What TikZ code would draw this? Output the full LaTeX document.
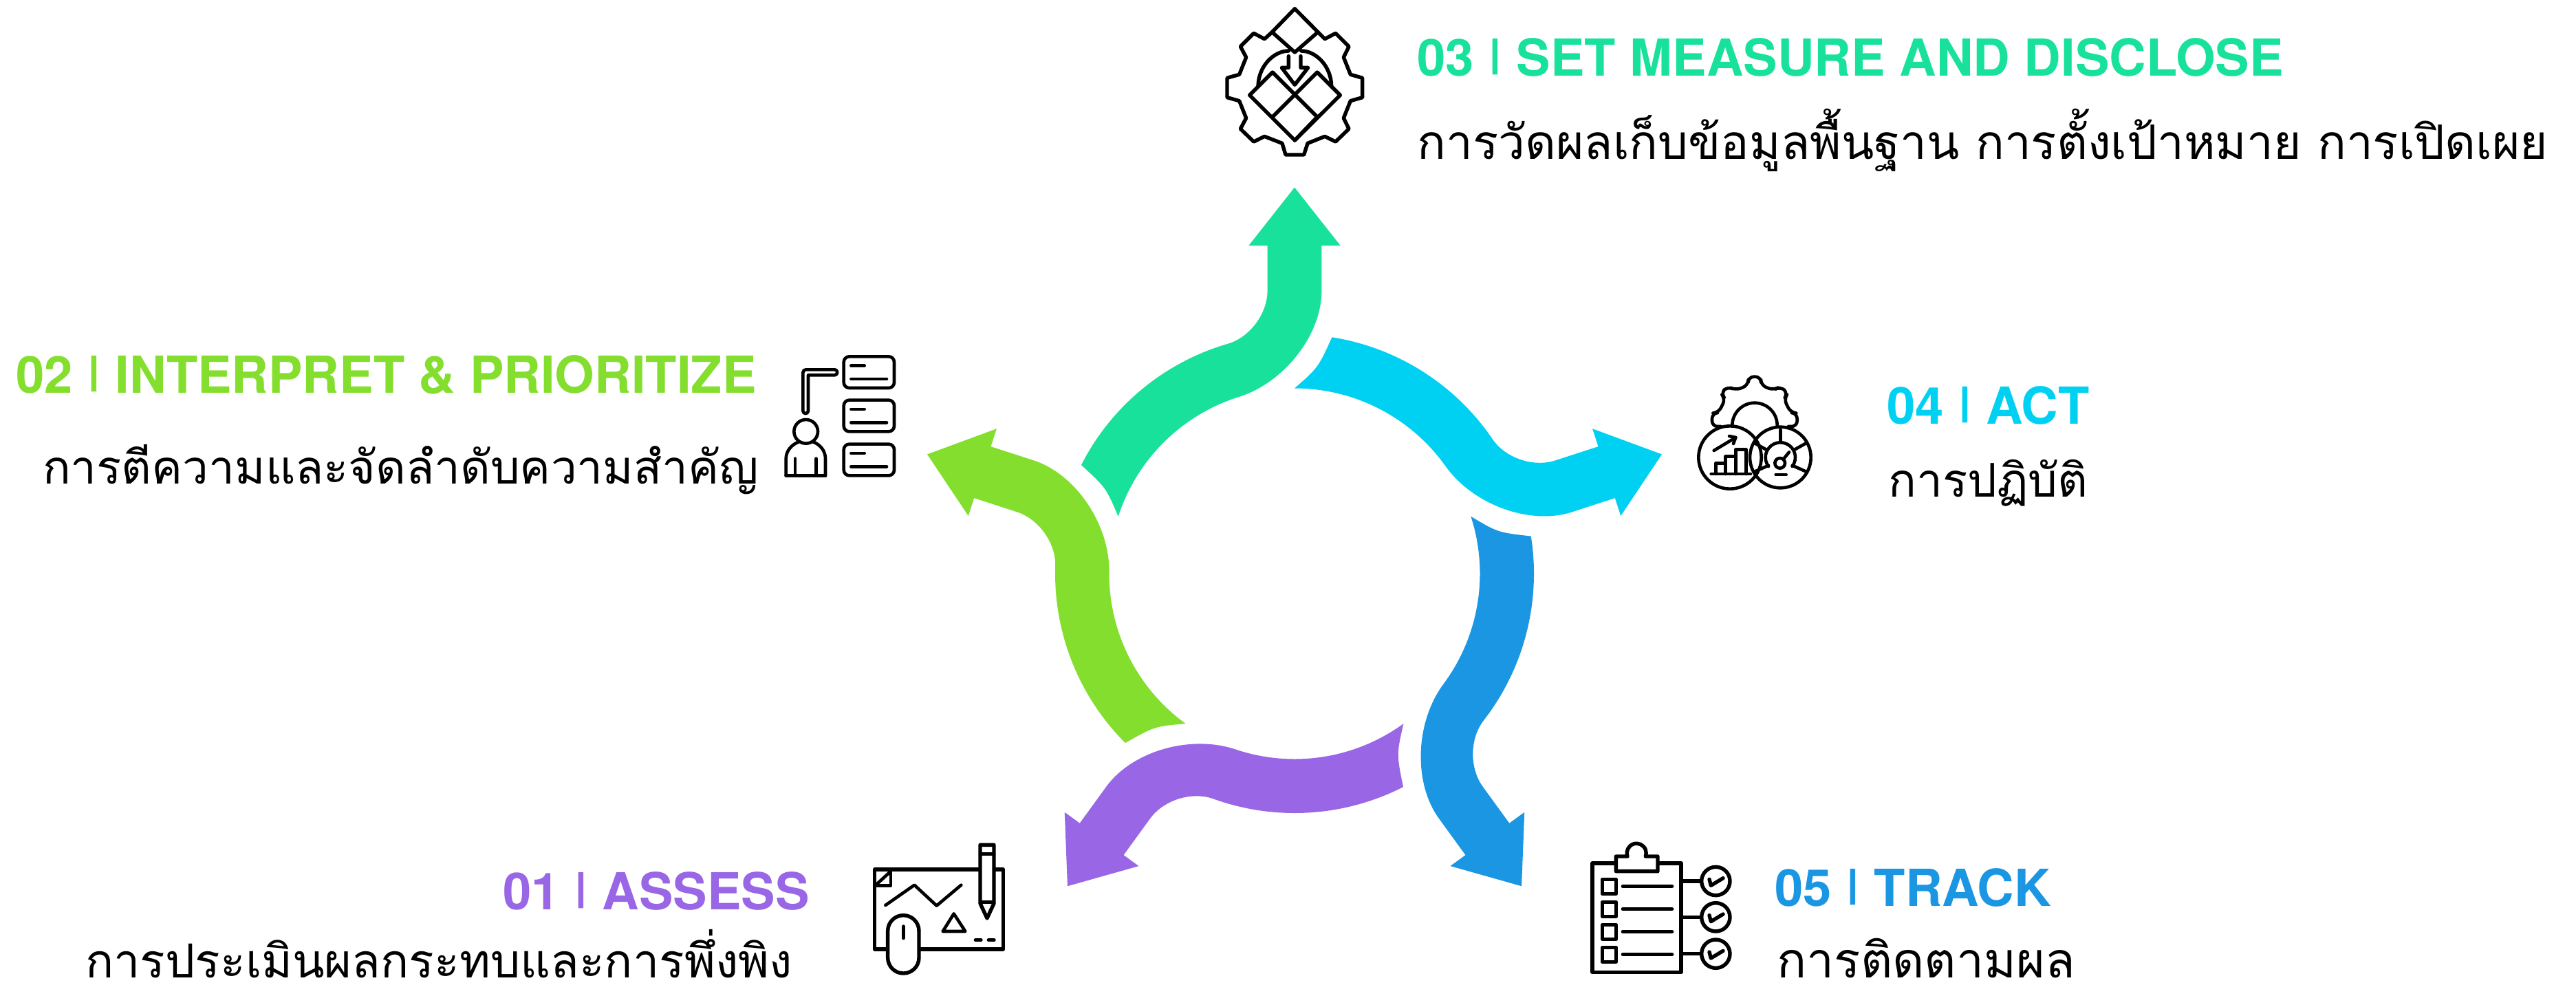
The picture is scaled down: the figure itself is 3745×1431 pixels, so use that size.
\documentclass[tikz,border=0pt]{standalone}
\usepackage{fontspec}
\setmainfont{TeX Gyre Heros}
\newfontfamily\thaifont[Script=Thai]{Loma}
\definecolor{cteal}{HTML}{17E19A}
\definecolor{ccyan}{HTML}{00D1F2}
\definecolor{cblue}{HTML}{1A96E3}
\definecolor{cpurple}{HTML}{9966E6}
\definecolor{cgreen}{HTML}{84DE2D}
\newcommand{\sepbar}{\scalebox{1}[0.76]{\raisebox{.215em}{|}}}
\newcommand{\thaisize}[1]{\fontsize{#1}{40}\selectfont}
\tikzset{
  x=0.5pt,y=-0.5pt,
  head/.style={inner sep=0,font=\fontsize{37.1}{40}\selectfont\bfseries},
  thai/.style={inner sep=0,text=black,font=\thaifont},
  ink/.style={line width=2.7pt,line join=round,line cap=round,draw=black},
  inkthin/.style={line width=2.3pt,line join=round,line cap=round,draw=black},
}
\newcommand{\petal}[2]{%
  \fill[#1,shift={(1882,834)},rotate=#2,yscale=-1]
    (0,561.5) -- (66.6,477) -- (39.4,477) -- (39.4,411.4)
    .. controls (39.4,347.6) and (-14.6,278) .. (107.4:269.5)
    arc[start angle=107.4,end angle=162,radius=269.5]
    .. controls (-274.1,125) .. (153:348)
    arc[start angle=153,end angle=106,radius=348]
    .. controls (-64.9,344) and (-39.4,378) .. (-39.4,411.4)
    -- (-39.4,477) -- (-66.6,477) -- cycle;}
\begin{document}
\begin{tikzpicture}
\useasboundingbox (0,0) rectangle (3745,1431);
\petal{cteal}{0}
\petal{ccyan}{-72}
\petal{cblue}{-144}
\petal{cpurple}{-216}
\petal{cgreen}{72}
% texts
\node[head,text=cteal,anchor=base west] (h3) at (2060,110) {03 \sepbar{} SET MEASURE AND DISCLOSE};
\node[thai,anchor=base west] (t3) at (2060,231) {\thaisize{34.6}การวัดผลเก็บข้อมูลพื้นฐาน การตั้งเป้าหมาย การเปิดเผย};
\node[head,text=cgreen,anchor=base east] (h2) at (1100,571) {02 \sepbar{} INTERPRET \& PRIORITIZE};
\node[thai,anchor=base east] (t2) at (1103,703) {\thaisize{33.7}การตีความและจัดลำดับความสำคัญ};
\node[head,text=ccyan,anchor=base west] (h4) at (2743,616) {04 \sepbar{} ACT};
\node[thai,anchor=base west] (t4) at (2745,722) {\thaisize{33.8}การปฏิบัติ};
\node[head,text=cpurple,anchor=base east] (h1) at (1177,1322) {01 \sepbar{} ASSESS};
\node[thai,anchor=base east] (t1) at (1152,1421) {\thaisize{34.1}การประเมินผลกระทบและการพึ่งพิง};
\node[head,text=cblue,anchor=base west] (h5) at (2580,1317) {05 \sepbar{} TRACK};
\node[thai,anchor=base west] (t5) at (2583,1421) {\thaisize{35.7}การติดตามผล};
% icon 3: gear
\begin{scope}[shift={(1700,0)},scale=1/3]
\draw[ink] (448,140) -- (547,38) -- (648,140) -- (547,228) -- cycle;
\draw[ink] (648,140) -- (678,170) -- (725,145) -- (783,203) -- (760,250) -- (790,325) -- (842,340) -- (842,425) -- (790,440) -- (760,515) -- (783,562) -- (725,618) -- (678,595) -- (603,625) -- (587,675) -- (507,675) -- (492,625) -- (415,595) -- (368,618) -- (310,562) -- (335,515) -- (305,440) -- (252,425) -- (252,340) -- (305,325) -- (335,250) -- (310,203) -- (368,145) -- (415,170) -- (448,140);
\draw[ink] (387,378) .. controls (387,290) and (455,222) .. (520,222);
\draw[ink] (575,222) .. controls (640,222) and (707,290) .. (707,378);
\draw[ink] (350,415) -- (450,315) -- (645,510) -- (547,612) -- cycle;
\draw[ink] (450,510) -- (645,315) -- (745,415) -- (547,612);
\draw[ink] (520,245) -- (520,295) -- (490,295) -- (547,370) -- (605,295) -- (573,295) -- (573,245);
\end{scope}
% icon 2: person + cards
\begin{scope}[shift={(1130,490)},scale=1/3]
\foreach \yy in {0,190,382}{
  \draw[inkthin,rounded corners=4pt] (290,85+\yy) rectangle (510,222+\yy);
  \draw[inkthin] (322,125+\yy) -- (380,125+\yy);
  \draw[inkthin] (322,183+\yy) -- (477,183+\yy);
}
\draw[inkthin] (112,322) -- (112,155) arc[start angle=180,end angle=270,radius=13] -- (250,142) arc[start angle=-90,end angle=90,radius=12] -- (135,166) -- (135,322) arc[start angle=0,end angle=180,radius=11.5] -- cycle;
\draw[inkthin] (125,412) circle[radius=52];
\draw[inkthin] (38,605) -- (38,530) .. controls (38,495) and (65,468) .. (92,458);
\draw[inkthin] (210,605) -- (210,530) .. controls (210,495) and (185,468) .. (158,458);
\draw[inkthin] (38,605) -- (210,605);
\draw[inkthin] (78,530) -- (78,600);
\draw[inkthin] (170,530) -- (170,600);
\end{scope}
% icon 4
\begin{scope}[shift={(2440,530)},scale=1/3]
\draw[inkthin,rounded corners=4pt] (185,270) -- (147,270) -- (147,212) -- (175,210) -- (205,150) -- (185,125) -- (215,95) -- (250,112) -- (305,90) -- (305,53) -- (360,53) -- (360,90) -- (415,112) -- (445,95) -- (478,125) -- (460,150) -- (490,210) -- (518,212) -- (518,270) -- (480,270);
\draw[inkthin] (235,265) arc[start angle=180,end angle=360,radius=98];
\draw[inkthin] (225,405) circle[radius=137];
\draw[inkthin] (445,405) circle[radius=133];
\draw[inkthin] (143,477) -- (315,477);
\draw[inkthin] (163,477) -- (163,430) -- (205,430) -- (205,477);
\draw[inkthin] (205,430) -- (205,400) -- (250,400) -- (250,477);
\draw[inkthin] (250,400) -- (250,370) -- (295,370) -- (295,477);
\draw[inkthin] (155,375) -- (250,318);
\draw[inkthin] (222,312) -- (250,318) -- (240,345);
\draw[inkthin] (393,444) arc[start angle=143,end angle=397,radius=65];
\draw[inkthin] (445,285) -- (445,335);
\draw[inkthin] (337,345) -- (385,372);
\draw[inkthin] (553,345) -- (505,372);
\draw[inkthin] (337,465) -- (393,440);
\draw[inkthin] (553,465) -- (497,440);
\draw[inkthin] (443,430) circle[radius=22];
\draw[inkthin] (460,410) -- (483,382);
\draw[inkthin] (425,480) -- (470,480);
\end{scope}
% icon 1
\begin{scope}[shift={(1240,1200)},scale=1/3]
\draw[ink] (95,192) rectangle (655,540);
\draw[inkthin] (95,262) -- (165,262) -- (165,192);
\draw[inkthin] (105,255) -- (165,200);
\draw[inkthin] (142,348) -- (268,260) -- (365,350) -- (472,260);
\draw[inkthin] (440,385) -- (490,462) -- (392,462) -- cycle;
\draw[ink,fill=white] (152,460) arc[start angle=180,end angle=360,radius=68] -- (288,577) arc[start angle=0,end angle=180,radius=68] -- cycle;
\draw[inkthin] (220,440) -- (220,492);
\draw[ink] (535,500) -- (558,500);
\draw[ink] (592,500) -- (615,500);
\draw[ink,fill=white] (555,85) -- (615,85) -- (615,340) -- (585,405) -- (555,340) -- cycle;
\draw[inkthin] (555,125) -- (615,125);
\draw[inkthin] (555,335) -- (615,335);
\end{scope}
% icon 5
\begin{scope}[shift={(2290,1200)},scale=1/3]
\draw[ink] (75,165) rectangle (462,640);
\draw[ink,fill=white] (178,200) -- (178,135) -- (228,135) arc[start angle=160,end angle=380,radius=42] -- (360,135) -- (360,200) -- cycle;
\foreach \yy in {0,99,198,297}{
  \draw[ink] (118,235+\yy) rectangle (178,298+\yy);
  \draw[ink] (208,266+\yy) -- (422,266+\yy);
}
\foreach \yy in {243,400,560}{
  \draw[ink] (462,\yy) -- (550,\yy);
  \draw[ink] (613,\yy) circle[radius=62];
  \draw[ink] (585,\yy-8) -- (592,\yy+19) -- (645,\yy-13);
}
\end{scope}
\end{tikzpicture}
\end{document}
